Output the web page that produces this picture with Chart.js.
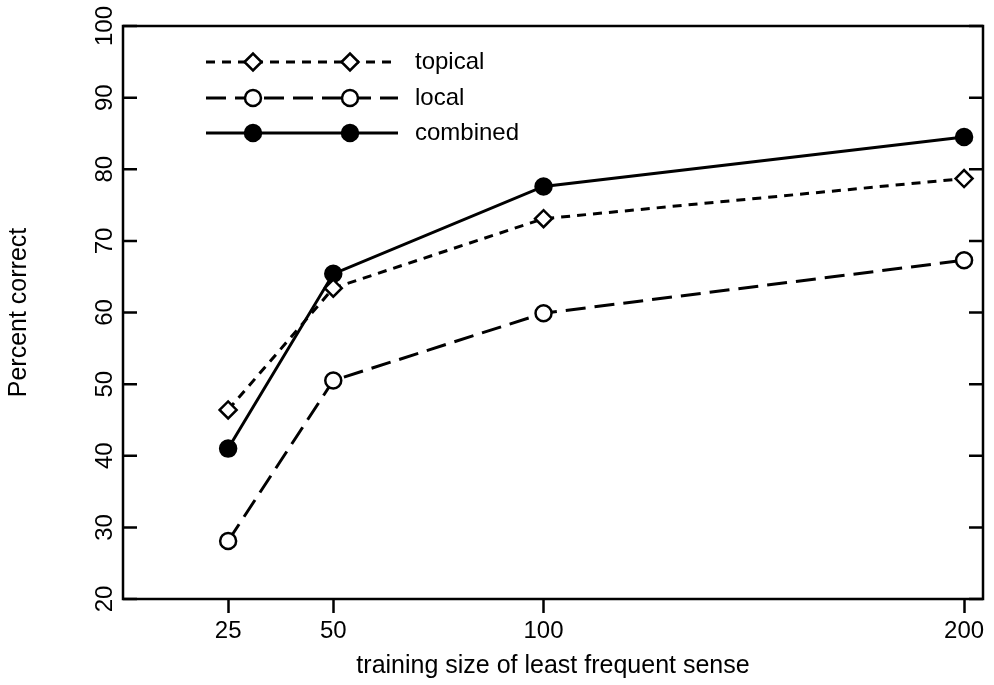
<!DOCTYPE html>
<html>
<head>
<meta charset="utf-8">
<script src="https://cdn.jsdelivr.net/npm/chart.js@4.4.1/dist/chart.umd.min.js"></script>
<style>
  html, body { margin: 0; padding: 0; background: #fff; }
  #wrap { width: 994px; height: 685px; }
</style>
</head>
<body>
<div id="wrap"><canvas id="grafico"></canvas></div>
<script>
// valores
const sizes = [25, 50, 100, 200]
const topical = [46.4, 63.4, 73.1, 78.7]
const local = [28.1, 50.5, 59.9, 67.3]
const combined = [41.0, 65.4, 77.6, 84.5]
const xTicks = [25, 50, 100, 200]
const yTicks = [20, 30, 40, 50, 60, 70, 80, 90, 100]
const names = ['topical', 'local', 'combined']

const fuente = '"Liberation Sans", Arial, Helvetica, sans-serif'
Chart.defaults.font.family = fuente
Chart.defaults.color = '#000'

function puntos(ys) {
   return sizes.map((x, i) => ({ x: x, y: ys[i] }))
}

// marco, ticks hacia adentro en el eje y, y leyenda con dos marcadores
const extras = {
   id: 'extras',
   afterDraw(chart) {
      const ctx = chart.ctx
      const a = chart.chartArea
      const ys = chart.scales.y
      ctx.save()
      ctx.strokeStyle = '#000'
      ctx.lineWidth = 2.5
      ctx.strokeRect(a.left, a.top, a.right - a.left, a.bottom - a.top)
      ctx.beginPath()
      yTicks.forEach(v => {
         const py = ys.getPixelForValue(v)
         ctx.moveTo(a.left, py); ctx.lineTo(a.left + 14, py)
         ctx.moveTo(a.right, py); ctx.lineTo(a.right - 14, py)
      })
      ctx.stroke()

      const filas = [62, 98, 133]
      chart.data.datasets.forEach((ds, i) => {
         const y = filas[i]
         ctx.beginPath()
         ctx.setLineDash(ds.borderDash || [])
         ctx.lineWidth = ds.borderWidth
         ctx.moveTo(206, y); ctx.lineTo(398, y)
         ctx.stroke()
         ctx.setLineDash([])
         ;[253, 350].forEach(px => {
            ctx.fillStyle = ds.pointBackgroundColor
            ctx.strokeStyle = '#000'
            ctx.lineWidth = ds.pointBorderWidth
            Chart.helpers.drawPoint(ctx, { pointStyle: ds.pointStyle, radius: ds.pointRadius, borderWidth: ds.pointBorderWidth }, px, y)
         })
         ctx.fillStyle = '#000'
         ctx.font = '24px ' + fuente
         ctx.textBaseline = 'middle'
         ctx.textAlign = 'left'
         ctx.fillText(ds.label, 415, y)
      })
      ctx.restore()
   }
}

const ctx = document.getElementById('grafico').getContext('2d')
const myChart = new Chart(ctx, {
   type: 'line',
   data: {
      datasets: [
         {
            label: names[0], data: puntos(topical),
            borderColor: '#000', borderWidth: 3, borderDash: [9, 7],
            pointStyle: 'rectRot', pointRadius: 8.5, pointBorderWidth: 2.5,
            pointBackgroundColor: '#fff', pointBorderColor: '#000'
         },
         {
            label: names[1], data: puntos(local),
            borderColor: '#000', borderWidth: 3, borderDash: [20, 9],
            pointStyle: 'circle', pointRadius: 8, pointBorderWidth: 2.5,
            pointBackgroundColor: '#fff', pointBorderColor: '#000'
         },
         {
            label: names[2], data: puntos(combined),
            borderColor: '#000', borderWidth: 3,
            pointStyle: 'circle', pointRadius: 8, pointBorderWidth: 2.5,
            pointBackgroundColor: '#000', pointBorderColor: '#000'
         }
      ]
   },
   options: {
      responsive: true,
      maintainAspectRatio: false,
      animation: false,
      layout: { padding: { left: 0, top: 26, right: 10, bottom: 0 } },
      plugins: {
         legend: { display: false },
         tooltip: { enabled: false }
      },
      scales: {
         x: {
            type: 'linear',
            min: 0,
            max: 204.5,
            afterBuildTicks: s => { s.ticks = xTicks.map(v => ({ value: v })) },
            afterFit: s => { s.height = 86 },
            grid: { drawOnChartArea: false, tickLength: 14, tickWidth: 2.5, tickColor: '#000' },
            border: { display: false },
            ticks: { font: { size: 24 }, padding: 4, maxRotation: 0, color: '#000' },
            title: { display: true, text: 'training size of least frequent sense', font: { size: 25 }, padding: { bottom: 4 }, color: '#000' }
         },
         y: {
            min: 20,
            max: 100,
            afterBuildTicks: s => { s.ticks = yTicks.map(v => ({ value: v })) },
            afterFit: s => { s.width = 123 },
            grid: { display: false, drawTicks: false },
            border: { display: false },
            ticks: { font: { size: 24 }, padding: -2, minRotation: 90, maxRotation: 90, crossAlign: 'center', color: '#000' },
            title: { display: true, text: 'Percent correct', font: { size: 25 }, padding: { top: 4 }, color: '#000' }
         }
      }
   },
   plugins: [extras]
})
</script>
</body>
</html>
